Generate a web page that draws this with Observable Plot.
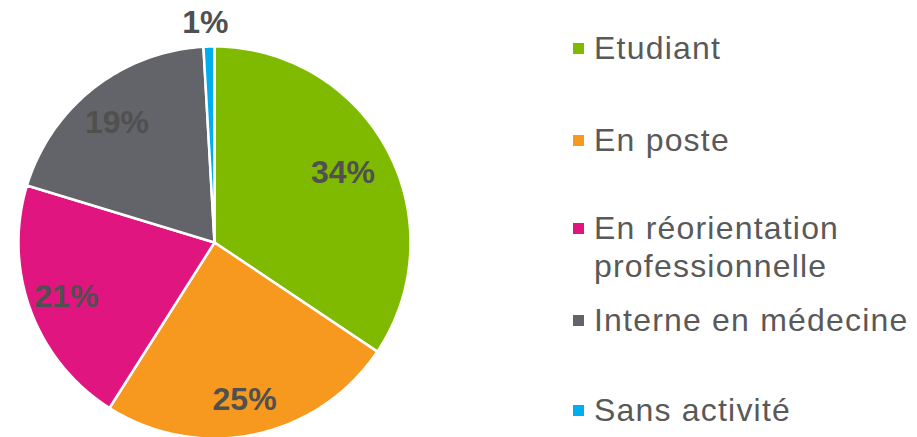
<!DOCTYPE html>
<html><head><meta charset="utf-8">
<script src="https://cdn.jsdelivr.net/npm/d3@7"></script>
<script src="https://cdn.jsdelivr.net/npm/@observablehq/plot@0.6"></script>
<style>
html,body{margin:0;padding:0;background:#fff;}
#wrap{position:relative;width:917px;height:437px;font-family:"Liberation Sans",Arial,sans-serif;}
#wrap svg{position:absolute;left:0;top:0;}
.lg{position:absolute;left:573px;color:#595959;font-size:32px;line-height:38px;letter-spacing:1.2px;}
.lg .sw{position:absolute;left:0;width:11px;height:11px;top:14px;}
.lg .tx{margin-left:21px;white-space:nowrap;}
</style></head>
<body><div id="wrap"></div>
<script>
const categories = ["Etudiant","En poste","En réorientation professionnelle","Interne en médecine","Sans activité"];
const legendLines = [["Etudiant"],["En poste"],["En réorientation","professionnelle"],["Interne en médecine"],["Sans activité"]];
const values = [34.4, 24.6, 20.7, 19.4, 0.9];
const labels = ["34%","25%","21%","19%","1%"];
const colors = ["#7FBA00","#F7981F","#E0157F","#636469","#00AEEF"];
const labelRadius = [0.76, 0.82, 0.79, 0.78, 1.12];

const total = d3.sum(values);
const slices = [];
const labelPts = [];
let acc = 0;
values.forEach((v,i)=>{
  const a0 = acc/total*2*Math.PI, a1 = (acc+v)/total*2*Math.PI;
  acc += v;
  const n = Math.max(2, Math.ceil((a1-a0)/(Math.PI/180)));
  slices.push({name:categories[i], x:0, y:0});
  for(let k=0;k<=n;k++){
    const a = a0+(a1-a0)*k/n;
    slices.push({name:categories[i], x:Math.sin(a), y:Math.cos(a)});
  }
  slices.push({name:categories[i], x:0, y:0});
  const am = (a0+a1)/2;
  const r = labelRadius[i];
  labelPts.push({label:labels[i], x:r*Math.sin(am), y:r*Math.cos(am)});
});

const cx = 214, cy = 242, R = 196;
const plot = Plot.plot({
  width:917, height:437, margin:0,
  x:{domain:[-1,1], range:[cx-R, cx+R], axis:null},
  y:{domain:[-1,1], range:[cy+R, cy-R], axis:null},
  color:{domain:categories, range:colors},
  style:{fontFamily:'"Liberation Sans",Arial,sans-serif', background:"transparent"},
  marks:[
    Plot.line(slices,{x:"x", y:"y", z:"name", fill:"name", stroke:"white", strokeWidth:2.5, strokeLinejoin:"round", curve:"linear-closed"}),
    Plot.text(labelPts,{x:"x", y:"y", text:"label", fontSize:32, fontWeight:"bold", fill:"#505050", dx:-3})
  ]
});
const wrap = document.getElementById("wrap");
wrap.appendChild(plot);
const tops = [29, 121, 209, 301, 391];
legendLines.forEach((lines,i)=>{
  const d = document.createElement("div");
  d.className = "lg";
  d.style.top = tops[i]+"px";
  d.innerHTML = `<div class="sw" style="background:${colors[i]}"></div><div class="tx">${lines.join("<br>")}</div>`;
  wrap.appendChild(d);
});
</script></body></html>
